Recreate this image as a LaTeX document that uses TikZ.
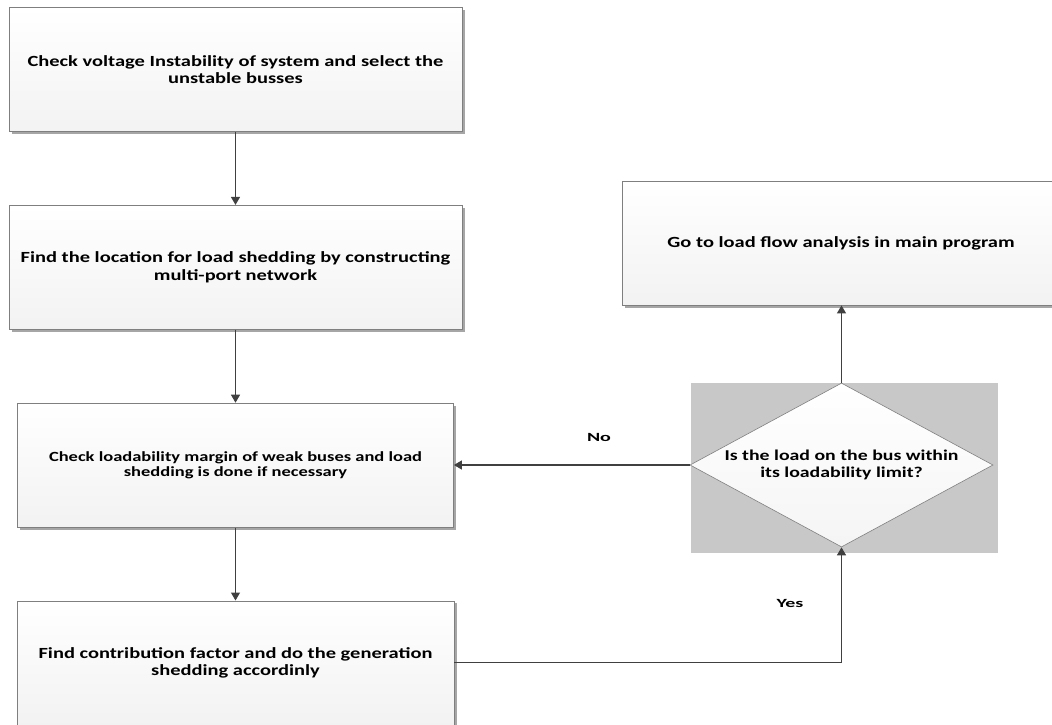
\documentclass[tikz,border=0pt]{standalone}
\usepackage{fontspec}
\setmainfont{Carlito}
\newfontfamily\boxfont[FakeStretch=1.32]{Carlito}
\newfontfamily\tagfont[FakeStretch=1.6]{Carlito}
\usepackage{tikz}
\usetikzlibrary{positioning}
\usetikzlibrary{shapes.geometric}
\usetikzlibrary{arrows.meta}
\usetikzlibrary{shadows}
\definecolor{boxline}{HTML}{7F7F7F}
\definecolor{arrowgray}{HTML}{404040}
\definecolor{backgray}{HTML}{C8C8C8}

\begin{document}
\begin{tikzpicture}[
      x=1pt, y=-1pt,
      node distance=73pt,
      stepbox/.style={draw=boxline, line width=0.8pt, top color=white, bottom color=gray!10,
        minimum height=124pt, align=center, font=\boxfont\fontsize{15.5}{17.5}\selectfont\bfseries,
        drop shadow={shadow xshift=2.5pt, shadow yshift=-2.5pt, fill=gray!70, opacity=1}},
      decision/.style={diamond, aspect=1.85, draw=boxline, line width=0.6pt, top color=white, bottom color=gray!8,
        minimum width=303pt, minimum height=164pt, inner sep=0pt, align=center,
        font=\boxfont\fontsize{15}{16.5}\selectfont\bfseries},
      flow/.style={draw=arrowgray, line width=1.1pt, -{Triangle[length=8pt,width=9pt]}},
      lbl/.style={font=\tagfont\fontsize{12.5}{14}\selectfont\bfseries},
    ]
    \useasboundingbox (0,0) rectangle (1052,724);
    \clip (0,0) rectangle (1052,724);
    \node[stepbox, minimum width=453pt] (check) at (235.5,69.5)
        {Check voltage Instability of system and select the\\unstable busses};
    \node[stepbox, minimum width=453pt, below=of check] (locate)
        {Find the location for load shedding by constructing\\multi-port network};
    \node[stepbox, minimum width=436pt, below=of locate, font=\boxfont\fontsize{14}{15.5}\selectfont\bfseries] (margin)
        {Check loadability margin of weak buses and load\\shedding is done if necessary};
    \node[stepbox, minimum width=437pt, below=of margin] (genshed)
        {Find contribution factor and do the generation\\shedding accordinly};
    \node[fill=backgray, minimum width=307pt, minimum height=170pt] (backdrop) at (844.5,468) {};
    \node[decision] (limit) at (841.5,465)
        {Is the load on the bus within\\its loadability limit?};
    \node[stepbox, minimum width=438pt] (loadflow) at (841,243)
        {Go to load flow analysis in main program};
    \node[lbl] (no) at (599,437) {No};
    \node[lbl] (yes) at (790,603) {Yes};
    \draw[flow] (check) -- (locate);
    \draw[flow] (locate) -- (margin);
    \draw[flow] (margin) -- (genshed);
    \draw[flow] (limit.north) -- (limit.north |- loadflow.south);
    \draw[flow] (limit.west) -- (limit.west -| margin.east);
    \draw[flow] (genshed.east) -| (limit.south);
\end{tikzpicture}
\end{document}
